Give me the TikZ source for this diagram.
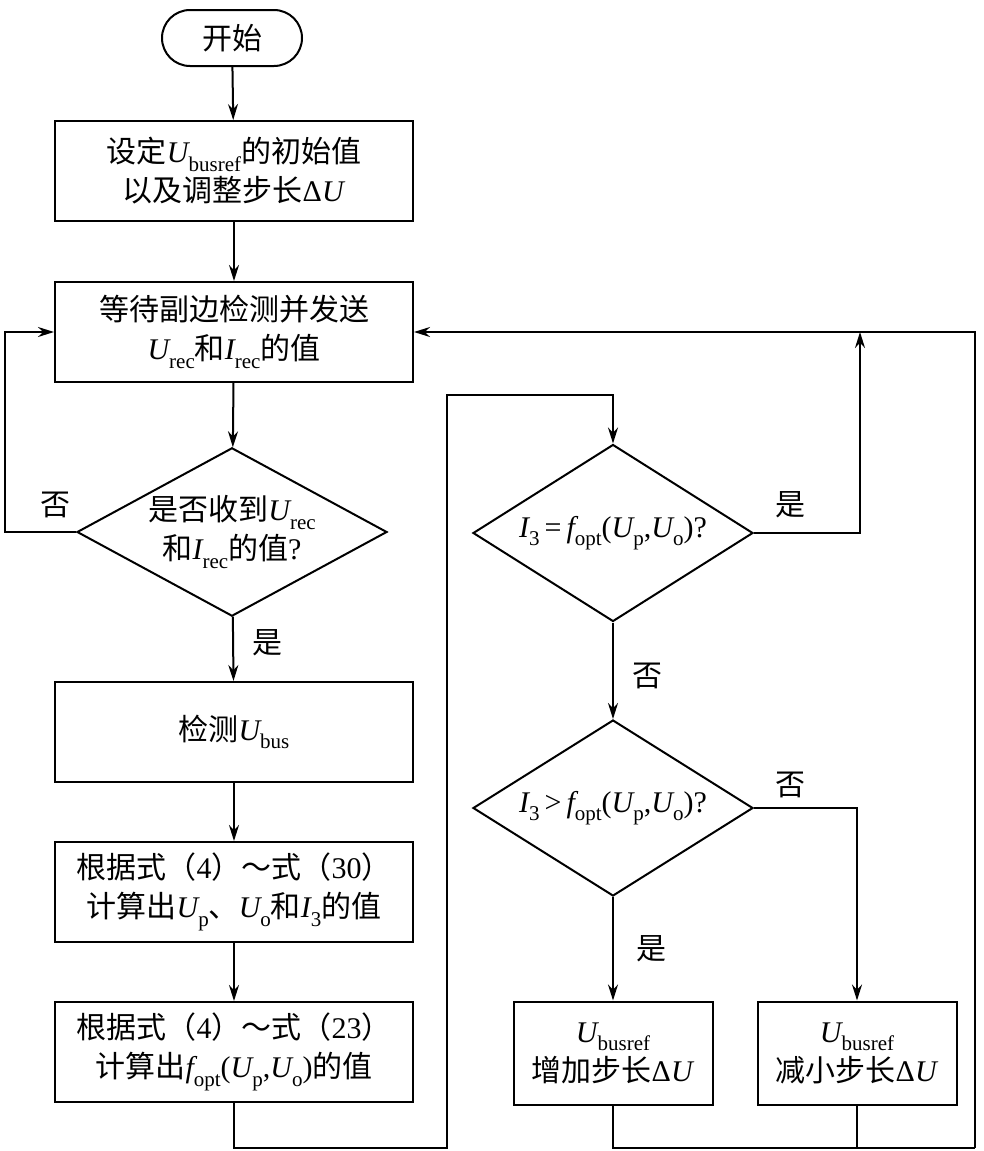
\documentclass[tikz,border=0pt]{standalone}
\usepackage{fontspec}
\setmainfont{Liberation Serif}
\newfontfamily\cjk{Noto Sans CJK SC}
\usetikzlibrary{shapes.geometric,arrows.meta}
\newcommand\Vv[2]{{\rmfamily\itshape #1}\raisebox{-0.28em}{\rmfamily\fontsize{21}{21}\selectfont #2}}
\newcommand\Rm[1]{{\rmfamily #1}}
\newcommand\fopt{\Vv{f}{opt}\Rm{(}\Vv{U}{p}\Rm{,}\Vv{U}{o}\Rm{)}}
\begin{document}
\begin{tikzpicture}[x=1pt,y=-1pt,
  every node/.style={font=\fontsize{30}{39}\selectfont\cjk, align=center, inner sep=0pt},
  box/.style={draw, line width=2pt, minimum width=358pt, minimum height=100pt},
  sbox/.style={draw, line width=2pt, minimum width=199pt, minimum height=103pt},
  dia/.style={draw, line width=2pt, diamond, aspect=1.75, minimum width=300pt, minimum height=172pt},
  ln/.style={line width=2pt},
  ar/.style={line width=2pt, -{Stealth[length=16pt,width=10pt]}}]
\useasboundingbox (0,0) rectangle (983,1151);
\node[draw, line width=2pt, rounded corners=28pt, minimum width=140pt, minimum height=56pt] (start) at (232,38) {开始};
\node[box] (b1) at (234,171) {设定\Vv{U}{busref}的初始值\\以及调整步长\Rm{Δ\textit{U}}};
\node[box] (b2) at (234,332) {等待副边检测并发送\\\Vv{U}{rec}和\Vv{I}{rec}的值};
\node[dia, minimum width=310pt, minimum height=162pt] (d1) at (232,532) {是否收到\Vv{U}{rec}\\和\Vv{I}{rec}的值\Rm{?}};
\node[box] (b3) at (234,732) {检测\Vv{U}{bus}};
\node[box] (b4) at (234,892) {根据式（\Rm{4}）～式（\Rm{30}）\\计算出\Vv{U}{p}、\Vv{U}{o}和\Vv{I}{3}的值};
\node[box] (b5) at (234,1052) {根据式（\Rm{4}）～式（\Rm{23}）\\计算出\fopt 的值};
\node[dia, minimum width=280pt, minimum height=177pt] (d2) at (613,533) {\Vv{I}{3}\,\Rm{=}\,\fopt\Rm{?}};
\node[dia, minimum width=280pt, minimum height=176pt] (d3) at (613,808) {\Vv{I}{3}\,\Rm{>}\,\fopt\Rm{?}};
\node[sbox] (b6) at (613,1053) {\Vv{U}{busref}\\增加步长\Rm{Δ\textit{U}}};
\node[sbox] (b7) at (857,1053) {\Vv{U}{busref}\\减小步长\Rm{Δ\textit{U}}};
\coordinate (up) at (860,332);
\draw[ar] (start) -- (b1);
\draw[ar] (b1) -- (b2);
\draw[ar] (b2) -- (d1);
\draw[ar] (d1) -- node[right=18pt, pos=0.4]{是} (b3);
\draw[ar] (d1.west) -- (5,532) -- (5,332) -- (b2.west);
\node at (55,505) {否};
\draw[ar] (b3) -- (b4);
\draw[ar] (b4) -- (b5);
\draw[ar] (b5.south) -- (234,1148) -- (447,1148) -- (447,395) -- (613,395) -- (d2.north);
\draw[ar] (d2.east) -- (860,533) -- (up);
\node at (790,505) {是};
\draw[ar] (d2) -- node[right=18pt, pos=0.55]{否} (d3);
\draw[ar] (d3) -- node[right=22pt, pos=0.5]{是} (b6);
\draw[ar] (d3.east) -- (857,808) -- (b7.north);
\node at (790,785) {否};
\draw[ln] (b6.south) -- (613,1148) -- (975,1148);
\draw[ln] (b7.south) -- (857,1148);
\draw[ar] (975,1148) -- (975,332) -- (b2.east);
\end{tikzpicture}
\end{document}
